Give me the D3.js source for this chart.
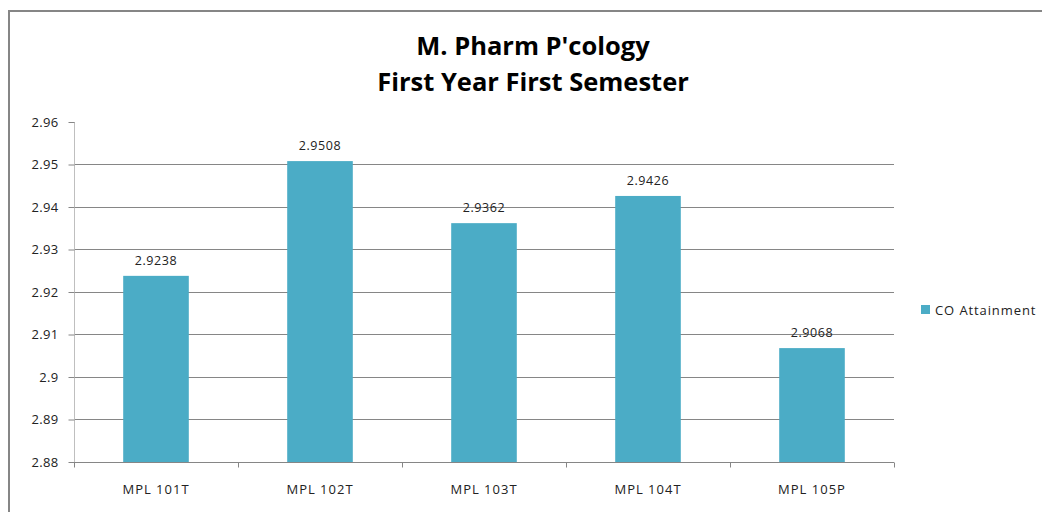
<!DOCTYPE html>
<html>
<head>
<meta charset="utf-8">
<script src="https://d3js.org/d3.v7.min.js"></script>
<style>
  body { margin: 0; background: #fff; }
  text { font-family: "Open Sans", "DejaVu Sans", sans-serif; }
</style>
</head>
<body>
<div id="wrapper"></div>
<script>
// chart data
var courses = ["MPL 101T", "MPL 102T", "MPL 103T", "MPL 104T", "MPL 105P"];
var attainment = [2.9238, 2.9508, 2.9362, 2.9426, 2.9068];
var yTicks = [2.88, 2.89, 2.9, 2.91, 2.92, 2.93, 2.94, 2.95, 2.96];
var seriesName = "CO Attainment";
var titleLines = ["M. Pharm P'cology", "First Year First Semester"];

var width = 1042, height = 512;
var plotLeft = 74, plotRight = 894, plotTop = 122, plotBottom = 462;
var barColor = "#4bacc6";

var svg = d3.select("#wrapper").append("svg")
  .attr("width", width)
  .attr("height", height);

// outer chart border (only left/top visible in the crop)
svg.append("path")
  .attr("d", "M9," + height + "V11H" + width)
  .attr("fill", "none")
  .attr("stroke", "#868686")
  .attr("stroke-width", 2);

// title
svg.selectAll(".title")
  .data(titleLines)
  .enter().append("text")
  .attr("class", "title")
  .attr("x", 533)
  .attr("y", function(d, i) { return 55 + i * 36; })
  .attr("text-anchor", "middle")
  .style("font-size", "25.5px")
  .style("font-weight", "bold")
  .attr("fill", "#000")
  .text(function(d) { return d; });

var xScale = d3.scaleBand().domain(courses).range([plotLeft, plotRight]).paddingInner(0.6).paddingOuter(0.3);
var yScale = d3.scaleLinear().domain([2.88, 2.96]).range([plotBottom, plotTop]);

// gridlines
svg.append("g")
  .selectAll("line")
  .data(yTicks.filter(function(t) { return t > 2.88 && t < 2.96; }))
  .enter().append("line")
  .attr("x1", plotLeft).attr("x2", plotRight)
  .attr("y1", function(d) { return Math.round(yScale(d)) + 0.5; })
  .attr("y2", function(d) { return Math.round(yScale(d)) + 0.5; })
  .attr("stroke", "#868686");

// bars
svg.append("g")
  .selectAll("rect")
  .data(attainment)
  .enter().append("rect")
  .attr("x", function(d, i) { return xScale(courses[i]); })
  .attr("y", function(d) { return yScale(d); })
  .attr("width", xScale.bandwidth())
  .attr("height", function(d) { return plotBottom - yScale(d); })
  .attr("fill", barColor);

// data labels
svg.append("g")
  .selectAll("text")
  .data(attainment)
  .enter().append("text")
  .attr("x", function(d, i) { return xScale(courses[i]) + xScale.bandwidth() / 2; })
  .attr("y", function(d) { return yScale(d) - 11; })
  .attr("text-anchor", "middle")
  .style("font-size", "12.5px")
  .style("letter-spacing", "0.6px")
  .attr("fill", "#222")
  .text(function(d) { return d.toFixed(4); });

// y axis
var yAxis = d3.axisLeft(yScale).tickValues(yTicks).tickSize(6).tickPadding(10)
  .tickFormat(function(d) { return String(+d.toFixed(2)); });
var gy = svg.append("g").attr("transform", "translate(" + (plotLeft + 0.5) + ",0)").call(yAxis);
gy.select(".domain").attr("stroke", "#bfbfbf").attr("d", "M0," + plotTop + "V" + (plotBottom + 5));
gy.selectAll(".tick line").attr("stroke", "#868686");
gy.selectAll(".tick text").style("font-size", "13px").style("letter-spacing", "0.3px").attr("fill", "#222");

// x axis
var xAxis = d3.axisBottom(xScale).tickSize(0).tickPadding(22);
var gx = svg.append("g").attr("transform", "translate(0," + (plotBottom + 0.5) + ")").call(xAxis);
gx.select(".domain").attr("stroke", "#868686").attr("d", "M" + plotLeft + ",0H" + plotRight);
gx.selectAll(".tick text").style("font-size", "13px").style("letter-spacing", "1px").attr("fill", "#222");
// category separators
gx.selectAll(".sep")
  .data(d3.range(courses.length + 1))
  .enter().append("line")
  .attr("x1", function(i) { return Math.round(plotLeft + i * (plotRight - plotLeft) / courses.length) + 0.5; })
  .attr("x2", function(i) { return Math.round(plotLeft + i * (plotRight - plotLeft) / courses.length) + 0.5; })
  .attr("y1", 0).attr("y2", 5)
  .attr("stroke", "#868686");

// legend
var lg = svg.append("g").attr("transform", "translate(921,305)");
lg.append("rect").attr("width", 9).attr("height", 9).attr("fill", barColor);
lg.append("text").attr("x", 14).attr("y", 10).style("font-size", "13px").style("letter-spacing", "0.9px").attr("fill", "#222").text(seriesName);
</script>
</body>
</html>
